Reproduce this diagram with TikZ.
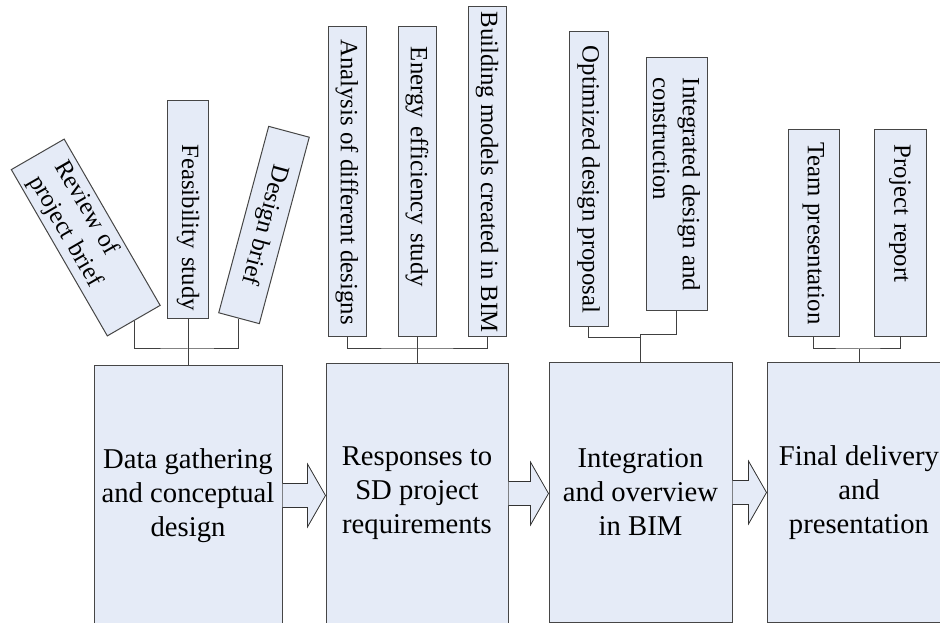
\documentclass[tikz,border=0pt]{standalone}
\usepackage{fontspec}
\setmainfont{Liberation Serif}
\usetikzlibrary{calc}

\definecolor{boxfill}{RGB}{229,235,247}
\definecolor{boxline}{RGB}{70,70,70}

\begin{document}
\begin{tikzpicture}[
    x=0.75pt,
    y=-0.75pt,
    stagebox/.style={draw=boxline, fill=boxfill, line width=0.75pt, anchor=north,
        minimum height=195pt, align=center, inner sep=2pt,
        font=\fontsize{21.5}{25.5}\selectfont},
    taskbox/.style={draw=boxline, fill=boxfill, line width=0.75pt, align=left,
        inner xsep=6pt, inner ysep=1pt, font=\fontsize{18.6}{22.3}\selectfont},
    linkline/.style={black!75, line width=0.75pt},
    flowarrow/.style={draw=black!80, fill=boxfill, line width=0.6pt, line join=miter}
]
    \useasboundingbox (0,0) rectangle (940,623);

    % main stages
    \node[stagebox, minimum width=141pt] (s1) at (188,365) {Data gathering\\and conceptual\\design};
    \node[stagebox, minimum width=136.5pt] (s2) at (417,363) {Responses to\\SD project\\requirements};
    \node[stagebox, minimum width=137.25pt] (s3) at (640.5,362) {Integration\\and overview\\in BIM};
    \node[stagebox, minimum width=138pt] (s4) at (859,362) {Final delivery\\and\\presentation};

    % block arrows between stages
    \foreach \a/\b in {s1/s2, s2/s3, s3/s4}
        \filldraw[flowarrow] let \p1=(\a.east), \p2=(\b.west) in
            (\x1,\y1+9pt) -- (\x2-13.5pt,\y1+9pt) -- (\x2-13.5pt,\y1+23.6pt) -- (\x2,\y1)
            -- (\x2-13.5pt,\y1-23.6pt) -- (\x2-13.5pt,\y1-9pt) -- (\x1,\y1-9pt);

    % tasks of stage 1
    \node[taskbox, rotate=-60, minimum width=144pt, minimum height=45.75pt,
          text width=116pt, inner xsep=14pt] (rev) at (85.75,237.5) {Review of\\project brief};
    \node[taskbox, rotate=-90, minimum height=30.75pt, text width=151.5pt,
          align=right] (fea) at (188,210) {Feasibility study};
    \node[taskbox, rotate=-105, minimum width=144.75pt, minimum height=31.5pt,
          align=center] (dbr) at (264,225) {Design brief};

    % tasks of stage 2
    \node[taskbox, rotate=-90, minimum width=232.5pt, minimum height=28.5pt,
          inner xsep=2pt] (ana) at (347,182) {Analysis of different designs};
    \node[taskbox, rotate=-90, minimum height=28.5pt, text width=202.5pt,
          inner xsep=15pt] (ene) at (417,182) {Energy efficiency study};
    \node[taskbox, rotate=-90, minimum width=247.5pt, minimum height=28.5pt,
          inner xsep=2pt] (bld) at (487,172) {Building models created in BIM};

    % tasks of stage 3
    \node[taskbox, rotate=-90, minimum width=221.25pt, minimum height=29.25pt,
          inner xsep=2pt] (opt) at (588.5,179.5) {Optimized design proposal};
    \node[taskbox, rotate=-90, minimum width=189.75pt, minimum height=45.75pt]
          (int) at (676.5,184.5) {Integrated design and\\construction};

    % tasks of stage 4
    \node[taskbox, rotate=-90, minimum width=155.25pt, minimum height=38.25pt]
          (team) at (813.5,233.5) {Team presentation};
    \node[taskbox, rotate=-90, minimum height=39pt, text width=133.25pt,
          inner xsep=11pt] (rep) at (900,233.5) {Project report};

    % connectors
    \coordinate (j1) at (188,349);
    \coordinate (j2) at (417,349);
    \coordinate (j3a) at (640.5,338);
    \coordinate (j3b) at (640.5,335);
    \coordinate (j4) at (859,349);

    \draw[linkline] (rev.east) |- (j1) -| (dbr.east);
    \draw[linkline] (fea.east) -- (s1.north);
    \draw[linkline] (ana.east) |- (j2) -| (bld.east);
    \draw[linkline] (ene.east) -- (s2.north);
    \draw[linkline] (opt.east) |- (j3a);
    \draw[linkline] (int.east) |- (j3b) -- (s3.north);
    \draw[linkline] (team.east) |- (j4) -| (rep.east);
    \draw[linkline] (j4) -- (s4.north);
\end{tikzpicture}
\end{document}
